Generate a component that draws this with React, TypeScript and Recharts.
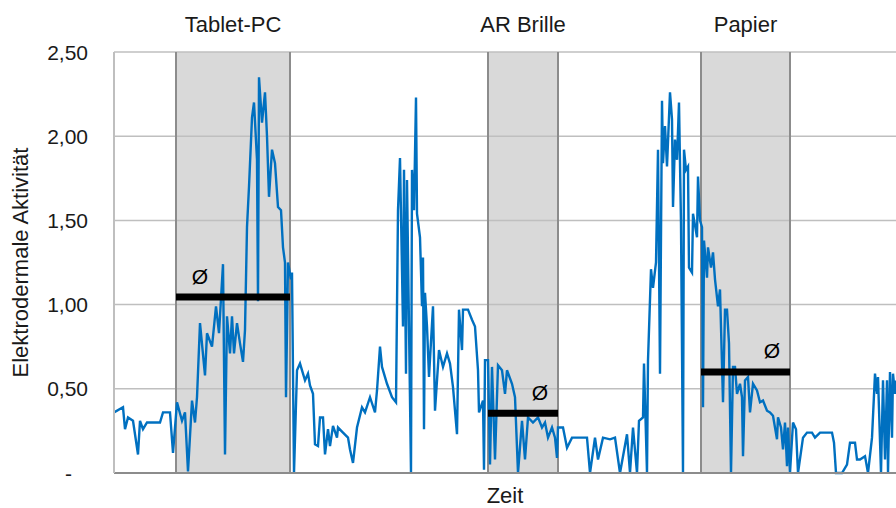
import React from 'react';
import { LineChart, Line, XAxis, YAxis, ReferenceArea, ReferenceLine, Label } from 'recharts';

// time index (sample position) and electrodermal activity values
const timeIdx = [
  0, 9, 11, 14, 19, 24, 26, 29, 33, 46,
  49, 56, 59, 63, 68, 71, 74, 78, 81, 83,
  86, 91, 93, 98, 102, 105, 109, 111, 113, 116,
  118, 120, 123, 126, 129, 131, 133, 135, 138, 140,
  143, 144, 145, 148, 151, 153, 155, 158, 161, 164,
  167, 169, 171, 172, 174, 177, 178, 180, 183, 186,
  191, 194, 196, 199, 201, 204, 206, 209, 211, 214,
  216, 219, 223, 224, 229, 234, 236, 239, 243, 248,
  251, 256, 261, 263, 266, 268, 273, 278, 282, 284,
  286, 289, 290, 292, 293, 295, 297, 298, 300, 302,
  303, 306, 308, 309, 310, 311, 313, 315, 319, 321,
  325, 329, 333, 336, 339, 343, 345, 348, 349, 354,
  358, 361, 364, 365, 369, 370, 371, 374, 376, 378,
  381, 384, 388, 391, 393, 398, 401, 404, 408, 411,
  414, 419, 424, 428, 431, 434, 438, 441, 443, 444,
  449, 453, 458, 466, 473, 476, 481, 484, 489, 496,
  501, 506, 513, 516, 519, 523, 525, 529, 530, 533,
  534, 537, 539, 542, 544, 546, 548, 549, 551, 553,
  556, 558, 559, 561, 563, 565, 567, 569, 570, 572,
  574, 575, 578, 579, 583, 584, 586, 588, 589, 590,
  593, 594, 597, 599, 601, 604, 606, 609, 611, 613,
  615, 617, 619, 621, 623, 626, 628, 629, 631, 634,
  636, 639, 643, 646, 649, 653, 656, 659, 663, 664,
  667, 669, 671, 673, 674, 676, 679, 682, 684, 689,
  693, 698, 701, 706, 713, 718, 720, 722, 728, 733,
  736, 741, 743, 746, 751, 754, 758, 761, 763, 764,
  767, 769, 771, 773, 774, 776, 778, 779, 781, 782,
];

const edaValues = [
  0.36, 0.39, 0.26, 0.33, 0.31, 0.11, 0.31, 0.26, 0.30, 0.30,
  0.36, 0.36, 0.12, 0.42, 0.31, 0.36, 0.01, 0.43, 0.30, 0.45,
  0.89, 0.58, 0.83, 0.75, 0.99, 0.83, 1.24, 0.11, 0.93, 0.71,
  0.93, 0.71, 0.89, 0.77, 0.66, 0.85, 1.46, 1.70, 2.11, 2.20,
  1.86, 1.02, 2.35, 2.08, 2.26, 2.00, 1.64, 1.92, 1.84, 1.58,
  1.56, 1.34, 1.25, 0.45, 1.25, 1.15, 1.19, 0.00, 0.61, 0.65,
  0.55, 0.59, 0.52, 0.47, 0.17, 0.16, 0.33, 0.33, 0.11, 0.26,
  0.16, 0.28, 0.21, 0.27, 0.24, 0.21, 0.14, 0.06, 0.27, 0.39,
  0.36, 0.45, 0.36, 0.49, 0.75, 0.63, 0.53, 0.45, 0.42, 1.56,
  1.87, 0.87, 1.80, 0.59, 1.74, 0.87, 0.00, 1.80, 1.56, 2.23,
  1.54, 1.40, 0.99, 1.28, 0.26, 1.07, 0.87, 0.57, 0.99, 0.37,
  0.73, 0.63, 0.71, 0.65, 0.51, 0.23, 0.97, 0.73, 0.97, 0.97,
  0.91, 0.87, 0.61, 0.36, 0.43, 0.02, 0.67, 0.67, 0.05, 0.63,
  0.08, 0.64, 0.61, 0.47, 0.61, 0.53, 0.45, 0.00, 0.31, 0.08,
  0.33, 0.30, 0.33, 0.27, 0.30, 0.21, 0.27, 0.21, 0.09, 0.27,
  0.27, 0.15, 0.21, 0.21, 0.21, 0.00, 0.21, 0.08, 0.21, 0.20,
  0.21, 0.00, 0.23, 0.00, 0.27, 0.00, 0.31, 0.33, 0.65, 0.00,
  0.67, 1.21, 1.10, 1.25, 1.92, 0.59, 2.21, 1.84, 2.06, 1.82,
  2.26, 2.10, 1.58, 1.98, 1.86, 2.20, 1.48, 0.00, 1.92, 1.80,
  1.82, 1.22, 1.19, 1.54, 1.40, 1.76, 1.50, 1.46, 0.39, 1.38,
  1.16, 1.34, 1.22, 1.31, 1.15, 0.99, 1.09, 0.42, 0.97, 0.97,
  0.77, 0.00, 0.63, 0.63, 0.47, 0.53, 0.45, 0.10, 0.55, 0.57,
  0.36, 0.53, 0.49, 0.42, 0.43, 0.37, 0.36, 0.34, 0.20, 0.33,
  0.27, 0.14, 0.30, 0.04, 0.27, 0.00, 0.30, 0.26, 0.00, 0.21,
  0.24, 0.24, 0.21, 0.24, 0.24, 0.24, 0.18, 0.00, 0.00, 0.05,
  0.18, 0.18, 0.08, 0.08, 0.10, 0.00, 0.21, 0.59, 0.47, 0.57,
  0.00, 0.55, 0.08, 0.55, 0.00, 0.60, 0.21, 0.59, 0.47, 0.55,
];

const conditionNames = ['Tablet-PC', 'AR Brille', 'Papier'];
const conditionStart = [62, 374, 587];
const conditionEnd = [176, 444, 676];
const conditionMean = [1.045, 0.355, 0.60];

const yTicks = [0, 0.5, 1, 1.5, 2, 2.5];
const timeDomain = [0, 782];

const chartData = timeIdx.map((t, i) => ({ t, eda: edaValues[i] }));

const FONT = '"Liberation Sans", Arial, Helvetica, sans-serif';
const TEXT = '#1a1a1a';

const fmt = (v: number) => (v === 0 ? '-' : v.toFixed(2).replace('.', ','));

const YTick = (props: any) => {
  const { x, y, payload } = props;
  const v = payload.value;
  return (
    <text
      x={v === 0 ? x - 16 : x}
      y={y}
      textAnchor="end"
      dominantBaseline="central"
      fontSize={21}
      fontFamily={FONT}
      fill={TEXT}
    >
      {fmt(v)}
    </text>
  );
};

const MeanLabel = (props: any) => {
  const { viewBox, side } = props;
  if (!viewBox) return null;
  const x = side === 'left' ? viewBox.x + 24 : viewBox.x + viewBox.width - 18;
  const y = viewBox.y - 21;
  return (
    <text
      x={x}
      y={y}
      textAnchor="middle"
      dominantBaseline="central"
      fontSize={21}
      fontFamily={FONT}
      fill="#000"
    >
      Ø
    </text>
  );
};

const YTitle = (props: any) => {
  const vb = props.viewBox;
  if (!vb) return null;
  const cx = vb.x + 20;
  const cy = vb.y + vb.height / 2;
  return (
    <text
      transform={`translate(${cx},${cy}) rotate(-90)`}
      textAnchor="middle"
      dominantBaseline="central"
      fontSize={22}
      fontFamily={FONT}
      fill={TEXT}
    >
      Elektrodermale Aktivität
    </text>
  );
};

export default function App() {
  return (
    <div style={{ position: 'absolute', left: 0, top: 0, width: 896, height: 508, overflow: 'hidden', background: '#fff' }}>
      <LineChart width={896} height={508} data={chartData} margin={{ top: 52, right: 0, bottom: 0, left: 0 }}>
        <XAxis
          dataKey="t"
          type="number"
          domain={timeDomain}
          allowDataOverflow
          tick={false}
          tickLine={false}
          height={35}
          axisLine={{ stroke: '#8c8c8c', strokeWidth: 2 }}
        >
          <Label value="Zeit" position="insideBottom" offset={5} fontSize={22} fontFamily={FONT} fill={TEXT} />
        </XAxis>
        <YAxis
          type="number"
          domain={[0, 2.5]}
          ticks={yTicks}
          interval={0}
          width={114}
          tickLine={false}
          tickMargin={20}
          tick={<YTick />}
          axisLine={{ stroke: '#bfbfbf', strokeWidth: 2 }}
        >
          <Label content={<YTitle />} />
        </YAxis>

        {conditionNames.map((name, i) => (
          <ReferenceArea
            key={`area-${name}`}
            x1={conditionStart[i]}
            x2={conditionEnd[i]}
            y1={0}
            y2={2.5}
            fill="#d9d9d9"
            fillOpacity={1}
            stroke="none"
            zIndex={10}
            label={{ value: name, position: 'top', offset: 20, fontSize: 22, fontFamily: FONT, fill: TEXT }}
          />
        ))}

        {yTicks.slice(1).map((v) => (
          <ReferenceLine key={`grid-${v}`} y={v} stroke="#bfbfbf" strokeWidth={1.5} zIndex={20} />
        ))}

        {conditionNames.map((name, i) => (
          <ReferenceLine key={`s-${name}`} x={conditionStart[i]} stroke="#8c8c8c" strokeWidth={2} zIndex={30} />
        ))}
        {conditionNames.map((name, i) => (
          <ReferenceLine key={`e-${name}`} x={conditionEnd[i]} stroke="#8c8c8c" strokeWidth={2} zIndex={30} />
        ))}

        <Line
          type="linear"
          dataKey="eda"
          stroke="#0070c0"
          strokeWidth={2.4}
          dot={false}
          activeDot={false}
          isAnimationActive={false}
        />

        {conditionNames.map((name, i) => (
          <ReferenceLine
            key={`mean-${name}`}
            segment={[
              { x: conditionStart[i], y: conditionMean[i] },
              { x: conditionEnd[i], y: conditionMean[i] },
            ]}
            stroke="#000"
            strokeWidth={7}
            zIndex={450}
            label={<MeanLabel side={i === 0 ? 'left' : 'right'} />}
          />
        ))}
      </LineChart>
    </div>
  );
}
